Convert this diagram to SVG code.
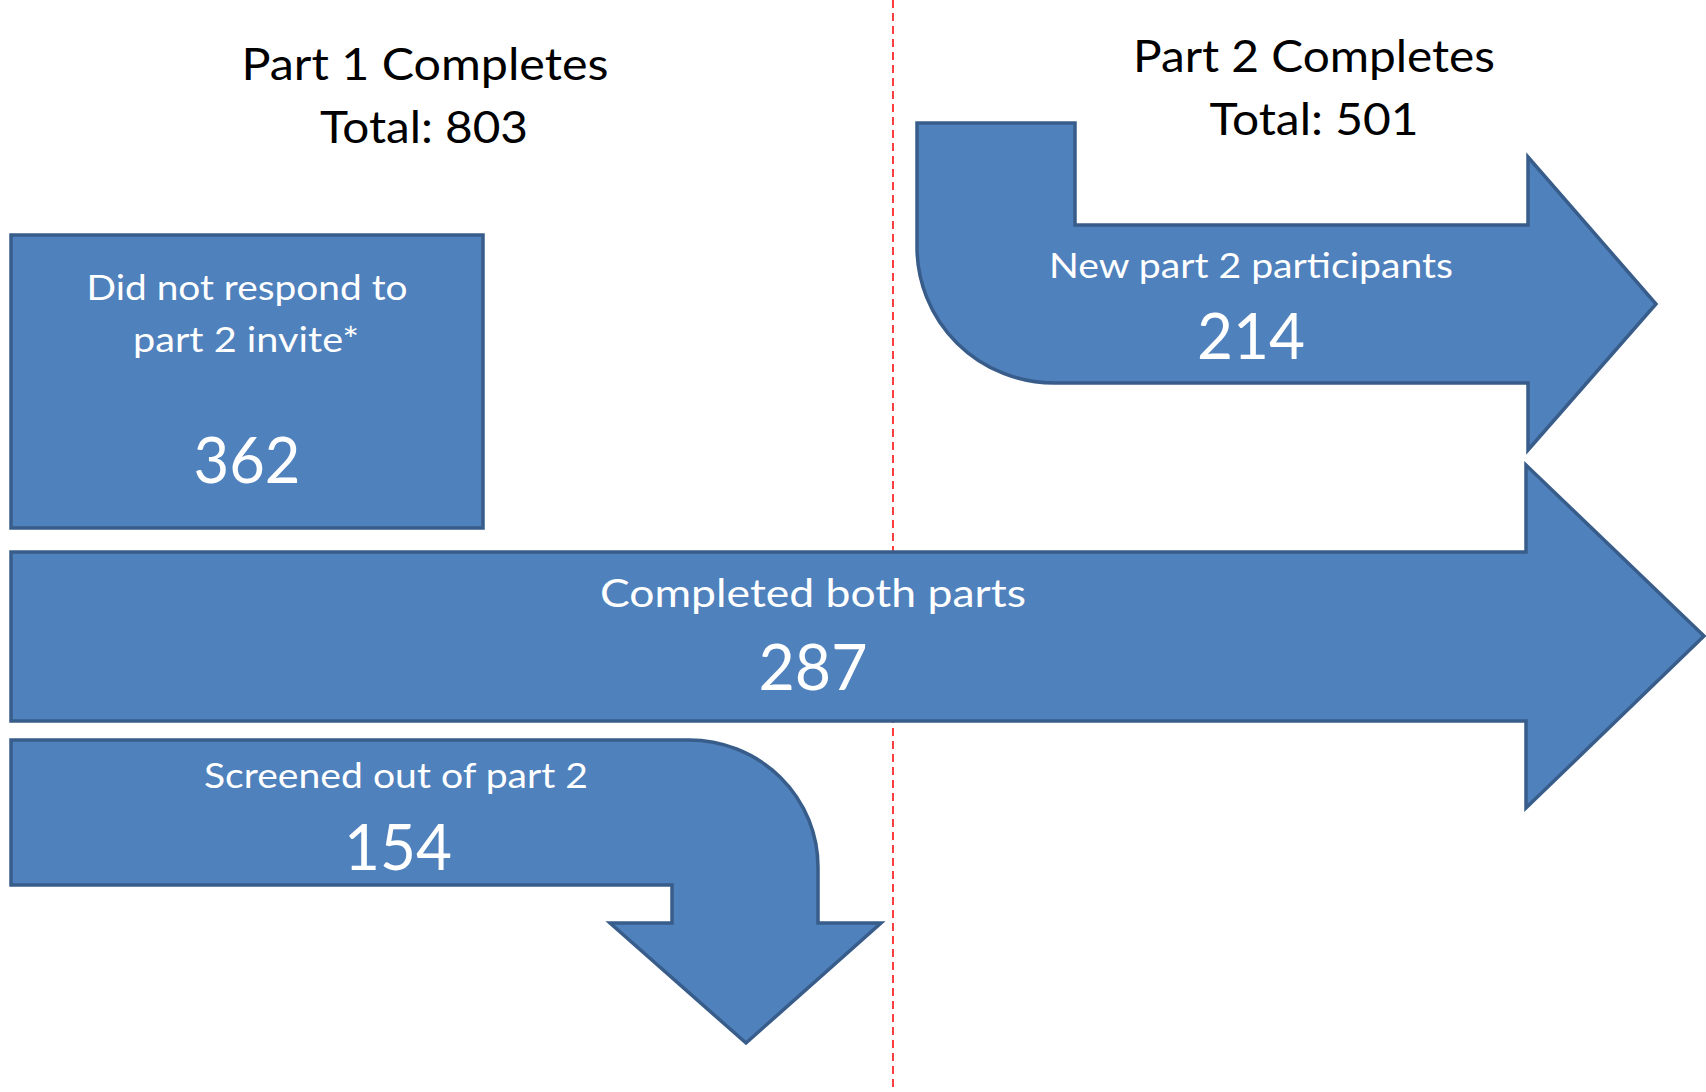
<svg xmlns="http://www.w3.org/2000/svg" width="1706" height="1092" viewBox="0 0 1706 1092">
<style>
.shape{fill:#4F81BD;stroke:#385D8A;stroke-width:3.5;stroke-linejoin:miter}
.t{font-family:Lato,"Open Sans","Liberation Sans",sans-serif;text-anchor:middle}
.title{font-size:45px;fill:#000}
.lbl{font-size:35px;fill:#fff}
.big{font-size:38px;fill:#fff}
.num{font-size:64px;fill:#fff}
</style>
<rect width="1706" height="1092" fill="#fff"/>
<g id="divider">
<line x1="893" y1="0" x2="893" y2="1092" stroke="#FF0000" stroke-width="1.5" stroke-dasharray="8,5"/>
</g>
<g id="titles">
<text class="t title" x="425" y="80" textLength="367" lengthAdjust="spacingAndGlyphs">Part 1 Completes</text>
<text class="t title" x="424" y="143" textLength="208" lengthAdjust="spacingAndGlyphs">Total: 803</text>
<text class="t title" x="1314" y="72" textLength="362" lengthAdjust="spacingAndGlyphs">Part 2 Completes</text>
<text class="t title" x="1314" y="135" textLength="209" lengthAdjust="spacingAndGlyphs">Total: 501</text>
</g>
<g id="no-response">
<rect class="shape" x="11" y="235" width="472" height="293"/>
<text class="t lbl" x="247" y="300" textLength="321" lengthAdjust="spacingAndGlyphs">Did not respond to</text>
<text class="t lbl" x="246" y="352" textLength="226" lengthAdjust="spacingAndGlyphs">part 2 invite*</text>
<text class="t num" x="247" y="483" textLength="107" lengthAdjust="spacingAndGlyphs">362</text>
</g>
<g id="new-part2">
<path class="shape" d="M917,123 H1075 V225 H1528 V157 L1656,304 L1528,450 V383 H1054 A137,136 0 0 1 917,247 Z"/>
<text class="t lbl" x="1251" y="278" textLength="404" lengthAdjust="spacingAndGlyphs">New part 2 participants</text>
<text class="t num" x="1251" y="359" textLength="108" lengthAdjust="spacingAndGlyphs">214</text>
</g>
<g id="both-parts">
<path class="shape" d="M11,552 H1526 V465 L1704,636 L1526,808 V721 H11 Z"/>
<text class="t big" x="813" y="607" textLength="426" lengthAdjust="spacingAndGlyphs">Completed both parts</text>
<text class="t num" x="813" y="690" textLength="109" lengthAdjust="spacingAndGlyphs">287</text>
</g>
<g id="screened-out">
<path class="shape" d="M11,740 H689 A129,127 0 0 1 818,867 V923 H881 L746,1043 L610,923 H672 V885 H11 Z"/>
<text class="t lbl" x="396" y="788" textLength="384" lengthAdjust="spacingAndGlyphs">Screened out of part 2</text>
<text class="t num" x="398" y="870" textLength="108" lengthAdjust="spacingAndGlyphs">154</text>
</g>
<g id="connectors"></g>
</svg>
